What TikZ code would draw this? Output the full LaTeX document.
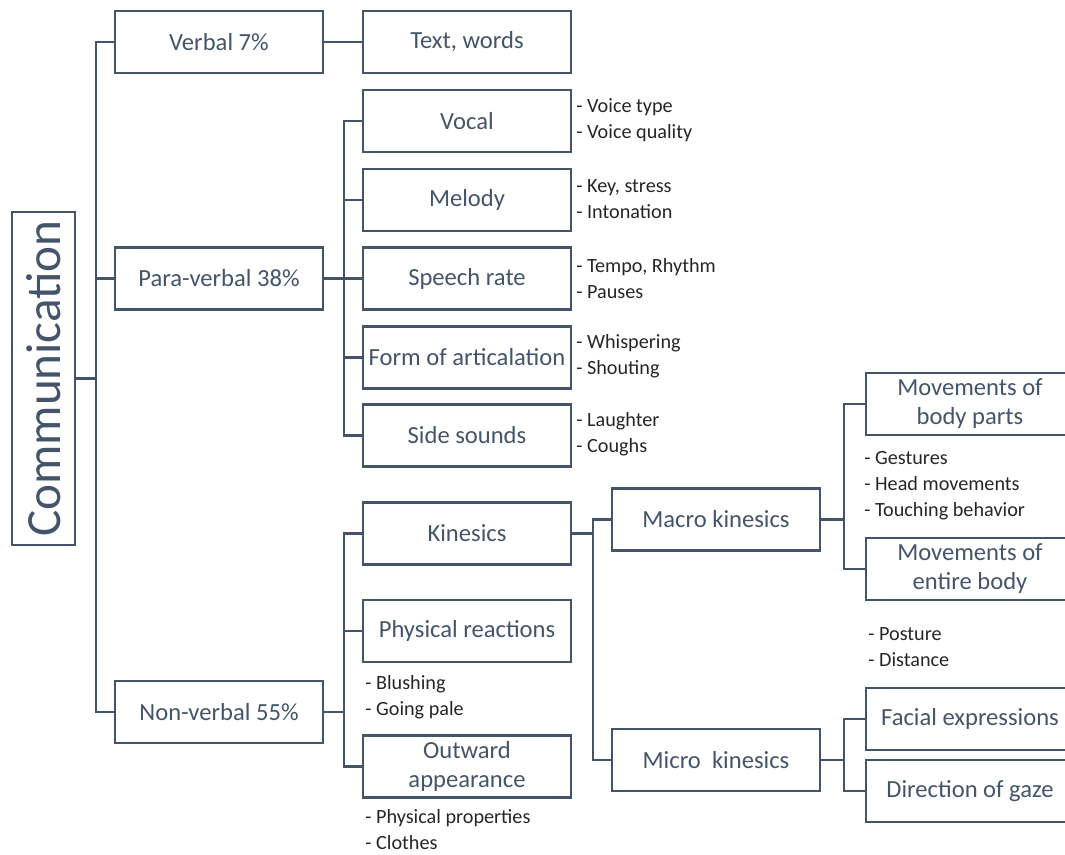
\documentclass[tikz,border=0pt]{standalone}
\usepackage{fontspec}
\setmainfont{Carlito}
\usetikzlibrary{positioning,calc}
\definecolor{boxline}{HTML}{44546A}
\definecolor{listtext}{HTML}{262626}

\begin{document}
\begin{tikzpicture}[
  x=0.02cm, y=-0.02cm,
  blk/.style={draw=boxline, line width=1.4pt, minimum width=4.16cm, minimum height=1.24cm,
              inner sep=1pt, align=center, text=boxline, font=\fontsize{14}{16.5}\selectfont},
  seg/.style={draw=boxline, line width=1.4pt, line cap=rect},
  lst/.style={anchor=west, inner sep=0pt, align=left, text=listtext,
              font=\fontsize{11.5}{14.8}\selectfont},
]
\useasboundingbox (0,0) rectangle (1065,855);

\node[blk, rotate=90, minimum width=6.66cm, minimum height=1.26cm,
      font=\fontsize{28}{30}\selectfont] (comm) at (43.5,378.5) {Communication};

% first level
\node[blk] (verbal) at (219,42) {Verbal 7\%};
\node[blk] (para) at (219,278.5) {Para-verbal 38\%};
\node[blk] (nonverbal) at (219,712) {Non-verbal 55\%};

% second level
\node[blk] (words) at (467,42) {Text, words};
\node[blk] (vocal) at (467,121) {Vocal};
\node[blk] (melody) at (467,200) {Melody};
\node[blk] (rate) at (467,278.5) {Speech rate};
\node[blk] (artic) at (467,357.5) {Form of articalation};
\node[blk] (side) at (467,435.5) {Side sounds};
\node[blk] (kin) at (467,533.5) {Kinesics};
\node[blk] (phys) at (467,631) {Physical reactions};
\node[blk] (outward) at (467,766.5) {Outward\\appearance};

% kinesics
\node[blk] (macro) at (716,519.5) {Macro kinesics};
\node[blk] (micro) at (716,760) {Micro\ \ kinesics};
\node[blk] (bodyparts) at (970,404) {Movements of\\body parts};
\node[blk] (entire) at (970,569) {Movements of\\entire body};
\node[blk] (facial) at (970,719) {Facial expressions};
\node[blk] (gaze) at (970,791) {Direction of gaze};

% lists
\node[lst] (vocalL) at (576,120) {- Voice type\\- Voice quality};
\node[lst] (melodyL) at (576,199) {- Key, stress\\- Intonation};
\node[lst] (rateL) at (576,278.5) {- Tempo, Rhythm\\- Pauses};
\node[lst] (articL) at (576,356.5) {- Whispering\\- Shouting};
\node[lst] (sideL) at (576,434.5) {- Laughter\\- Coughs};
\node[lst] (bodypartsL) at (864,486) {- Gestures\\- Head movements\\- Touching behavior};
\node[lst] (entireL) at (868,647) {- Posture\\- Distance};
\node[lst] (physL) at (365,697) {- Blushing\\- Going pale};
\node[lst] (outwardL) at (365,830) {- Physical properties\\- Clothes};

% connectors
\draw[seg] (comm.south) -- ++(20,0) coordinate (c0);
\foreach \n in {verbal,para,nonverbal}
  \draw[seg] (c0) |- (\n.west);
\draw[seg] (verbal) -- (words);
\draw[seg] (para.east) -- ++(20,0) coordinate (c1);
\foreach \n in {vocal,melody,rate,artic,side}
  \draw[seg] (c1) |- (\n.west);
\draw[seg] (nonverbal.east) -- ++(20,0) coordinate (c2);
\foreach \n in {kin,phys,outward}
  \draw[seg] (c2) |- (\n.west);
\draw[seg] (kin.east) -- ++(21,0) coordinate (c3);
\foreach \n in {macro,micro}
  \draw[seg] (c3) |- (\n.west);
\draw[seg] (macro.east) -- ++(23,0) coordinate (c4);
\foreach \n in {bodyparts,entire}
  \draw[seg] (c4) |- (\n.west);
\draw[seg] (micro.east) -- ++(23,0) coordinate (c5);
\foreach \n in {facial,gaze}
  \draw[seg] (c5) |- (\n.west);

\end{tikzpicture}
\end{document}
